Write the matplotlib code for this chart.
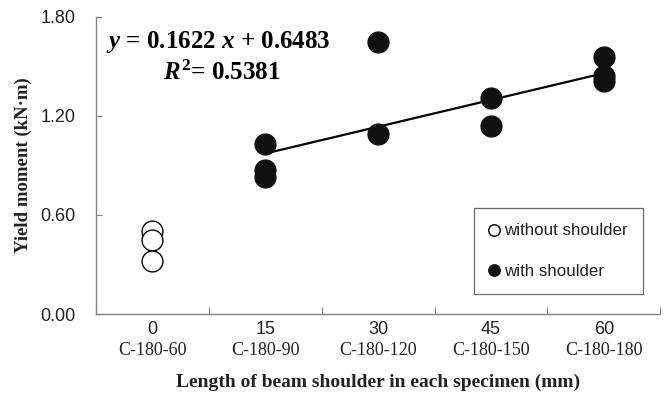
import matplotlib
matplotlib.use("Agg")
import matplotlib.pyplot as plt
import numpy as np

# category positions (index 1..5) and their labels
cat_pos = [1, 2, 3, 4, 5]
shoulder_mm = ['0', '15', '30', '45', '60']
specimens = ['C-180-60', 'C-180-90', 'C-180-120', 'C-180-150', 'C-180-180']

# without shoulder (C-180-60)
x_without = [1, 1, 1]
y_without = [0.50, 0.45, 0.32]

# with shoulder
x_with = [2, 2, 2, 3, 3, 4, 4, 5, 5, 5]
y_with = [1.03, 0.87, 0.83, 1.65, 1.09, 1.31, 1.14, 1.56, 1.44, 1.41]

# linear trend from the chart
slope = 0.1622
intercept = 0.6483
r2 = 0.5381

y_ticks = [0.0, 0.6, 1.2, 1.8]

serif = 'Liberation Serif'
sans = 'Liberation Sans'
axis_grey = '#808080'
text_col = '#222222'

plt.rcParams['mathtext.fontset'] = 'custom'
plt.rcParams['mathtext.rm'] = 'Liberation Serif:bold'
plt.rcParams['mathtext.bf'] = 'Liberation Serif:bold'
plt.rcParams['mathtext.it'] = 'Liberation Serif:italic:bold'

fig = plt.figure(figsize=(6.67, 3.94), dpi=100)
ax = fig.add_axes([0.144, 0.203, 0.846, 0.754])

ax.plot(x_without, y_without, 'o', ms=15, mfc='white', mec='black', mew=1.0,
        label='without shoulder', zorder=3)
ax.plot(x_with, y_with, 'o', ms=15, mfc='#111111', mec='#111111',
        label='with shoulder', zorder=3)

xl = np.array([2, 5])
ax.plot(xl, slope * xl + intercept, color='black', lw=1.6, zorder=2)

ax.set_xlim(0.5, 5.5)
ax.set_ylim(0, 1.8)

# y axis
ax.set_yticks(y_ticks)
ax.set_yticklabels([f'{v:.2f}' for v in y_ticks], fontfamily=sans,
                   fontsize=13, color=text_col)
ax.tick_params(axis='y', direction='in', length=4, pad=15, color=axis_grey)

# x axis: tick marks at category boundaries, labels at centres
ax.set_xticks(np.arange(0.5, 6.0, 1.0))
ax.set_xticklabels([])
ax.tick_params(axis='x', which='major', direction='in', length=5, color=axis_grey)
ax.set_xticks(cat_pos, minor=True)
ax.set_xticklabels(shoulder_mm, minor=True, fontfamily=sans, fontsize=13,
                   color=text_col)
ax.tick_params(axis='x', which='minor', length=0, pad=5)
for p, s in zip(cat_pos, specimens):
    ax.text(p, -0.122, s, transform=ax.get_xaxis_transform(), ha='center',
            va='center', fontfamily=serif, fontsize=13, color=text_col)

for side in ['top', 'right']:
    ax.spines[side].set_visible(False)
for side in ['left', 'bottom']:
    ax.spines[side].set_color(axis_grey)
    ax.spines[side].set_linewidth(1.0)

ax.set_xlabel('Length of beam shoulder in each specimen (mm)', fontfamily=serif,
              fontweight='bold', fontsize=14, color=text_col, labelpad=26)
ax.set_ylabel('Yield moment (kN\u00b7m)', fontfamily=serif, fontweight='bold',
              fontsize=13.5, color=text_col, labelpad=6)

# equation
ax.text(0.59, 1.648, r'$y$ = 0.1622 $x$ + 0.6483',
        fontfamily=serif, fontweight='bold', fontsize=18, va='center',
        ha='left', color='black')
ax.text(1.09, 1.462, r'$R^{2}$= ' + f'{r2:.4f}', fontfamily=serif,
        fontweight='bold', fontsize=18, va='center', ha='left', color='black')

leg = ax.legend(loc='lower right', bbox_to_anchor=(0.97, 0.067), frameon=True,
                fancybox=False, edgecolor='#444444', markerscale=0.55,
                handlelength=0.6, handletextpad=0.3, labelspacing=1.5,
                borderpad=0.9, borderaxespad=0, prop={'family': sans, 'size': 12.2})
leg.get_frame().set_linewidth(0.9)
for t in leg.get_texts():
    t.set_color(text_col)

fig.savefig('out.png', dpi=100)
